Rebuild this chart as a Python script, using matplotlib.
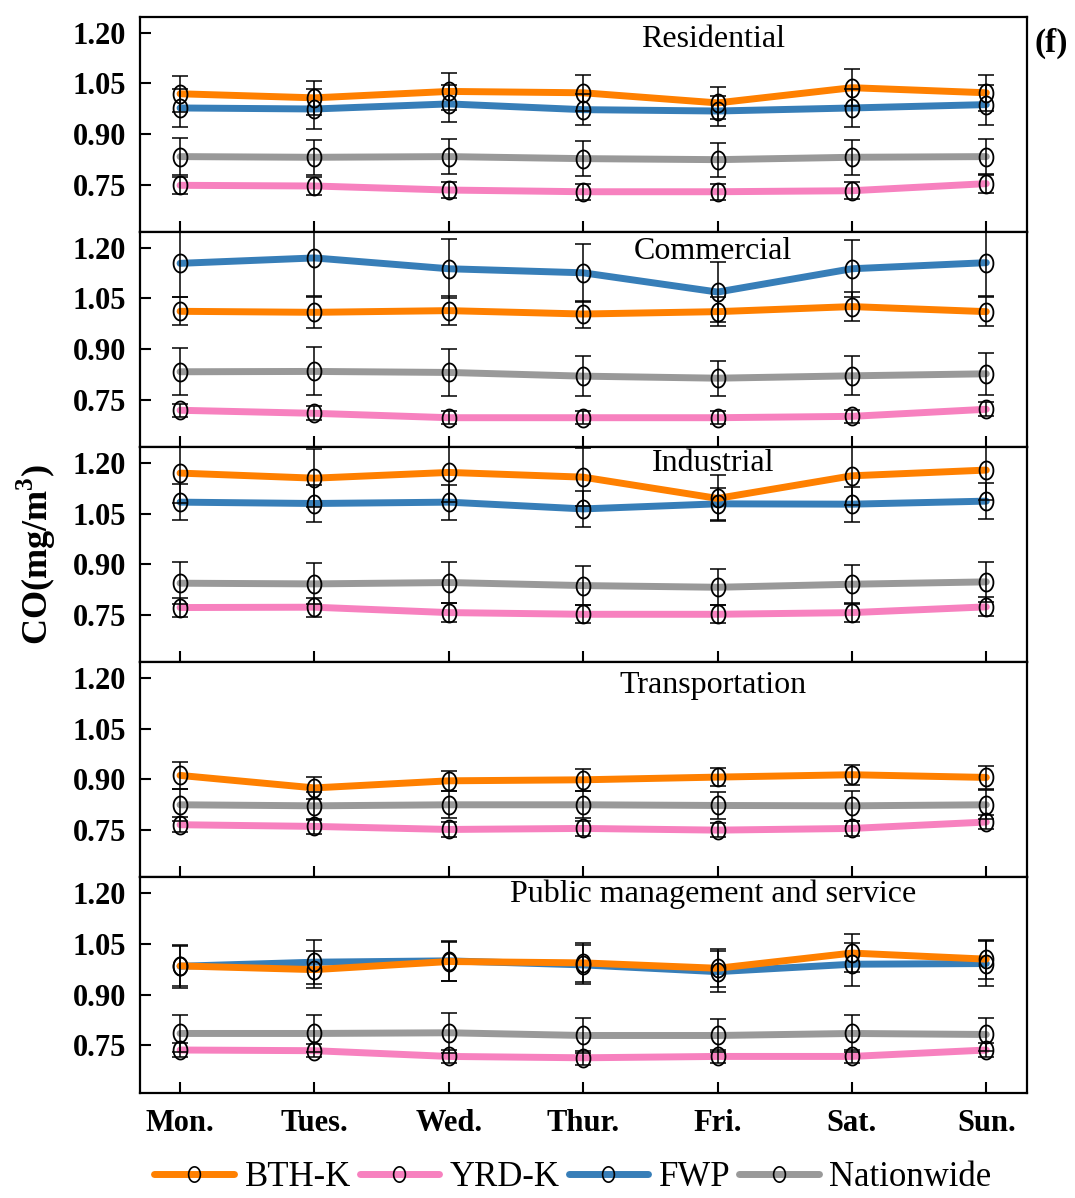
import matplotlib.pyplot as plt
from matplotlib.lines import Line2D
from matplotlib.path import Path
import numpy as np

plt.rcParams['font.family'] = ['Liberation Serif', 'DejaVu Serif']
plt.rcParams['mathtext.fontset'] = 'custom'
plt.rcParams['mathtext.rm'] = 'Liberation Serif'
plt.rcParams['mathtext.bf'] = 'Liberation Serif:bold'

days = ["Mon.", "Tues.", "Wed.", "Thur.", "Fri.", "Sat.", "Sun."]
sectors = ["Residential", "Commercial", "Industrial", "Transportation",
           "Public management and service"]
series_names = ["BTH-K", "YRD-K", "FWP", "Nationwide"]
colors = ["#FF8000", "#F781BF", "#377EB8", "#999999"]

# mean CO per sector, series order: BTH-K, YRD-K, FWP, Nationwide
bth_mean = [
    [1.019, 1.007, 1.026, 1.022, 0.992, 1.037, 1.022],
    [1.012, 1.009, 1.014, 1.004, 1.011, 1.026, 1.011],
    [1.170, 1.155, 1.172, 1.158, 1.095, 1.162, 1.179],
    [0.912, 0.875, 0.896, 0.899, 0.907, 0.914, 0.906],
    [0.985, 0.974, 0.998, 0.994, 0.978, 1.023, 1.005],
]
yrd_mean = [
    [0.748, 0.746, 0.734, 0.729, 0.729, 0.732, 0.753],
    [0.719, 0.710, 0.697, 0.697, 0.697, 0.701, 0.722],
    [0.772, 0.773, 0.757, 0.752, 0.752, 0.757, 0.774],
    [0.766, 0.761, 0.752, 0.755, 0.750, 0.755, 0.774],
    [0.736, 0.734, 0.717, 0.713, 0.717, 0.717, 0.736],
]
fwp_mean = [
    [0.977, 0.974, 0.989, 0.972, 0.968, 0.977, 0.987],
    [1.154, 1.170, 1.138, 1.126, 1.069, 1.138, 1.156],
    [1.084, 1.080, 1.084, 1.064, 1.079, 1.078, 1.087],
    [np.nan] * 7,
    [0.984, 0.996, 1.000, 0.988, 0.968, 0.990, 0.992],
]
nat_mean = [
    [0.833, 0.831, 0.833, 0.827, 0.824, 0.831, 0.833],
    [0.833, 0.834, 0.831, 0.820, 0.814, 0.821, 0.827],
    [0.844, 0.842, 0.846, 0.837, 0.832, 0.841, 0.848],
    [0.825, 0.822, 0.825, 0.825, 0.823, 0.822, 0.825],
    [0.785, 0.785, 0.787, 0.779, 0.779, 0.785, 0.782],
]

# error bar half widths
bth_err = [
    [0.054, 0.051, 0.054, 0.053, 0.048, 0.055, 0.053],
    [0.041, 0.045, 0.043, 0.040, 0.042, 0.043, 0.043],
    [0.089, 0.085, 0.088, 0.085, 0.068, 0.086, 0.088],
    [0.039, 0.033, 0.030, 0.033, 0.026, 0.030, 0.034],
    [0.058, 0.055, 0.059, 0.058, 0.056, 0.055, 0.058],
]
yrd_err = [
    [0.025, 0.028, 0.023, 0.024, 0.023, 0.025, 0.027],
    [0.020, 0.021, 0.019, 0.019, 0.019, 0.020, 0.021],
    [0.028, 0.028, 0.027, 0.027, 0.027, 0.027, 0.028],
    [0.022, 0.023, 0.021, 0.021, 0.021, 0.021, 0.022],
    [0.020, 0.020, 0.020, 0.020, 0.019, 0.020, 0.020],
]
fwp_err = [
    [0.055, 0.058, 0.055, 0.046, 0.044, 0.055, 0.059],
    [0.100, 0.113, 0.087, 0.086, 0.090, 0.085, 0.100],
    [0.053, 0.056, 0.052, 0.054, 0.048, 0.052, 0.053],
    [np.nan] * 7,
    [0.063, 0.066, 0.060, 0.058, 0.060, 0.063, 0.066],
]
nat_err = [
    [0.054, 0.052, 0.052, 0.052, 0.050, 0.052, 0.052],
    [0.069, 0.071, 0.069, 0.060, 0.052, 0.058, 0.063],
    [0.062, 0.061, 0.062, 0.058, 0.053, 0.058, 0.060],
    [0.047, 0.042, 0.040, 0.040, 0.041, 0.044, 0.043],
    [0.054, 0.055, 0.059, 0.053, 0.050, 0.055, 0.050],
]

means = [bth_mean, yrd_mean, fwp_mean, nat_mean]
errs = [bth_err, yrd_err, fwp_err, nat_err]
# drawing order (bottom to top)
draw_order = [3, 1, 2, 0]
title_y = [0.893, 0.91, 0.925, 0.893, 0.92]

# slightly tall ellipse marker, like the source picture
t = np.linspace(0, 2 * np.pi, 60)
oval = Path(np.column_stack([np.cos(t) / 1.3, np.sin(t)]))

fig, axes = plt.subplots(5, 1, figsize=(10.75, 11.98), dpi=100, sharex=True)
fig.subplots_adjust(left=0.130, right=0.955, top=0.986, bottom=0.088, hspace=0)

x = np.arange(len(days))
for k, ax in enumerate(axes):
    for s in draw_order:
        m = np.array(means[s][k])
        e = np.array(errs[s][k])
        if np.all(np.isnan(m)):
            continue
        ax.plot(x, m, color=colors[s], lw=5, solid_capstyle='round', zorder=2)
        ax.errorbar(x, m, yerr=e, fmt='none', ecolor='black', elinewidth=1.1,
                    capsize=6, capthick=1.1, zorder=3)
        ax.plot(x, m, ls='none', marker=oval, ms=13, mfc='none', mec='black',
                mew=1.3, zorder=4)
    ax.set_ylim(0.61, 1.247)
    ax.set_xlim(-0.3, 6.3)
    ax.set_yticks([0.75, 0.90, 1.05, 1.20])
    ax.set_yticklabels(["0.75", "0.90", "1.05", "1.20"])
    ax.tick_params(axis='both', direction='in', length=8, width=1.5,
                   labelsize=22)
    ax.tick_params(axis='y', pad=10)
    for lab in ax.get_yticklabels():
        lab.set_fontweight('bold')
    for sp in ax.spines.values():
        sp.set_linewidth(1.6)
    ax.text(0.646, title_y[k], sectors[k], transform=ax.transAxes, ha='center',
            va='center', fontsize=23)

axes[-1].set_xticks(x)
axes[-1].set_xticklabels(days, fontweight='bold')
axes[-1].tick_params(axis='x', pad=12)

fig.text(0.034, 0.537, r"CO(mg/m$^\mathbf{3}$)", rotation=90, ha='center',
         va='center', fontsize=26, fontweight='bold')
fig.text(0.978, 0.964, "(f)", ha='center', va='center', fontsize=24,
         fontweight='bold')

handles = [Line2D([], [], color=colors[s], lw=5, solid_capstyle='round',
                  marker=oval, ms=11, mfc='none', mec='black', mew=1.2)
           for s in range(4)]
fig.legend(handles, series_names, loc='lower center', ncol=4, frameon=False,
           fontsize=25, handlelength=2.3, handletextpad=0.3,
           columnspacing=0.25, bbox_to_anchor=(0.533, -0.023))

fig.savefig("out.png", dpi=100)
